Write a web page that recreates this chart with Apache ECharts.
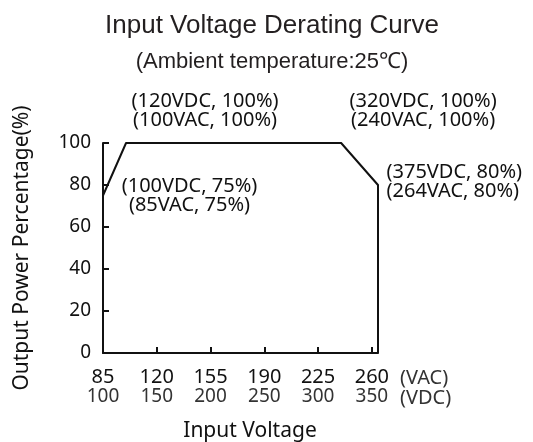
<!DOCTYPE html>
<html style="height: 100%">
<head>
    <meta charset="utf-8">
    <title>Input Voltage Derating Curve</title>
    <script src="https://cdn.jsdelivr.net/npm/echarts@6/dist/echarts.min.js"></script>
</head>
<body style="height: 100%; margin: 0; background: #fff">
<div id="main" style="width: 533px; height: 442px"></div>

<script type="text/javascript">

    // curve points (x in VAC, y in % output power)
    var vacPoints = [85, 100, 240, 264, 264];
    var powerPct = [75, 100, 100, 80, 0];

    // tick labels on x axis: AC row and DC row
    var vacTicks = [85, 120, 155, 190, 225, 260];
    var vdcTicks = [100, 150, 200, 250, 300, 350];

    // point annotations, same order as the points
    var pointNotes = [
        '(100VDC, 75%)\n(85VAC, 75%)',
        '(120VDC, 100%)\n(100VAC, 100%)',
        '(320VDC, 100%)\n(240VAC, 100%)',
        '(375VDC, 80%)\n(264VAC, 80%)',
        ''
    ];

    var labelFont = 'Noto Sans';
    var notePos = [
        {position: 'right', offset: [81, 0], align: 'center'},
        {position: 'top', offset: [79, -8], align: 'center'},
        {position: 'top', offset: [82, -8], align: 'center'},
        {position: 'right', offset: [3, -3], align: 'left'},
        {}
    ];

    var data = [];
    for (var i = 0; i < vacPoints.length; i++) {
        var lbl = {
            show: pointNotes[i] !== '',
            formatter: pointNotes[i],
            color: '#111',
            fontFamily: labelFont,
            fontSize: 20,
            lineHeight: 19
        };
        if (notePos[i].position) {
            lbl.position = notePos[i].position;
            lbl.offset = notePos[i].offset;
            lbl.align = notePos[i].align;
        }
        data.push({value: [vacPoints[i], powerPct[i]], label: lbl});
    }

    var myChart = echarts.init(document.getElementById('main'));

    var option = {
        animation: false,
        title: {
            text: 'Input Voltage Derating Curve',
            subtext: '(Ambient temperature:25\u2103)',
            left: 267,
            textAlign: 'center',
            top: 8,
            itemGap: 12,
            textStyle: {fontFamily: 'Liberation Sans', fontSize: 26, fontWeight: 'normal', color: '#231f20'},
            subtextStyle: {fontFamily: 'Liberation Sans', fontSize: 22, color: '#231f20'}
        },
        grid: {left: 103, right: 155, top: 143, bottom: 89},
        xAxis: {
            type: 'value',
            min: 85,
            max: 264,
            name: '(VAC)\n(VDC)',
            nameLocation: 'end',
            nameGap: 22,
            nameTextStyle: {
                fontFamily: labelFont, fontSize: 20, lineHeight: 20,
                color: '#333', verticalAlign: 'top', align: 'left',
                padding: [15, 0, 0, 0]
            },
            axisLine: {lineStyle: {color: '#111', width: 2}},
            axisTick: {inside: true, length: 6, customValues: vacTicks.slice(1), lineStyle: {color: '#111', width: 2}},
            splitLine: {show: false},
            axisLabel: {
                customValues: vacTicks,
                margin: 14,
                formatter: function (v) {
                    var k = vacTicks.indexOf(v);
                    return '{ac|' + v + '}\n{dc|' + vdcTicks[k] + '}';
                },
                rich: {
                    ac: {fontFamily: labelFont, fontSize: 20, lineHeight: 20, color: '#111'},
                    dc: {fontFamily: labelFont, fontSize: 19, lineHeight: 20, color: '#333'}
                }
            }
        },
        yAxis: {
            type: 'value',
            min: 0,
            max: 100,
            interval: 20,
            name: 'Output Power Percentage(%)',
            nameLocation: 'middle',
            nameGap: 70,
            nameTextStyle: {fontFamily: labelFont, fontSize: 21, color: '#111'},
            axisLine: {show: true, lineStyle: {color: '#111', width: 2}},
            axisTick: {show: true, inside: true, length: 6, lineStyle: {color: '#111', width: 2}},
            splitLine: {show: false},
            axisLabel: {fontFamily: labelFont, fontSize: 19, color: '#111', margin: 12}
        },
        // axis title placed under the tick rows
        graphic: [{
            type: 'text',
            x: 250,
            y: 431,
            style: {text: 'Input Voltage', fontFamily: labelFont, fontSize: 21, fill: '#111', align: 'center', verticalAlign: 'middle'}
        }],
        series: [{
            type: 'line',
            data: data,
            symbol: 'circle',
            symbolSize: 1,
            itemStyle: {color: '#111'},
            lineStyle: {color: '#111', width: 2},
            label: {show: true}
        }]
    };
    myChart.setOption(option);

</script>
</body>
</html>
